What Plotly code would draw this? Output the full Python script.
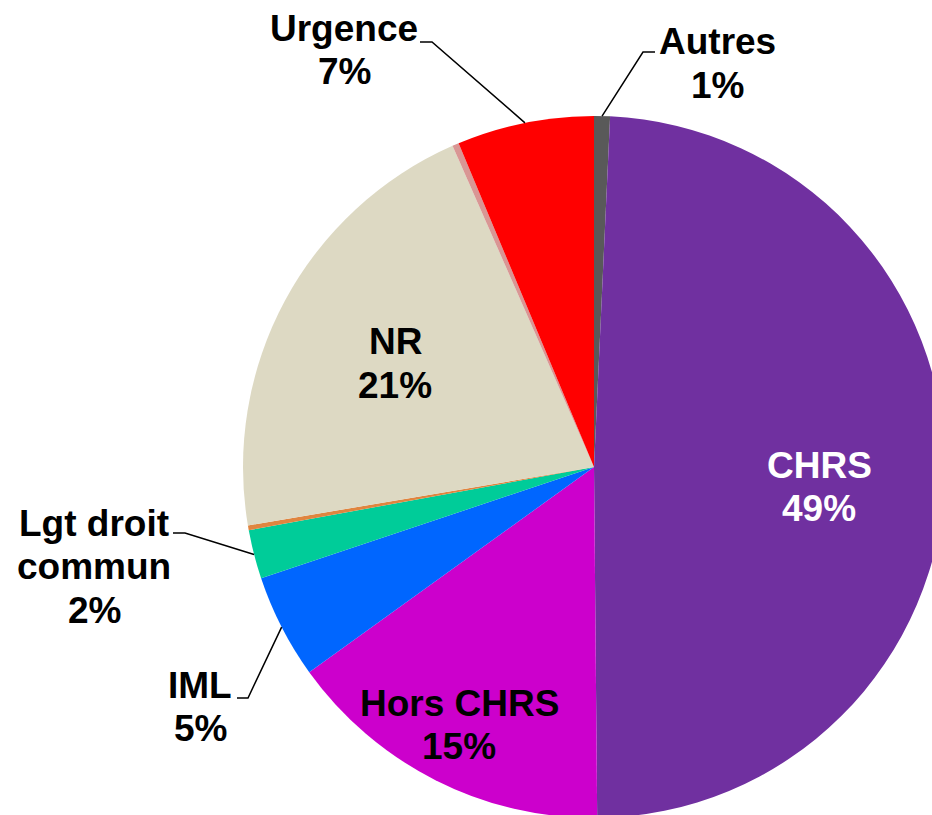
import math
import plotly.graph_objects as go

# ---- data ----
categories = ["Autres", "CHRS", "Hors CHRS", "IML", "Lgt droit commun",
              "Divers 1", "NR", "Divers 2", "Urgence"]
values = [0.73, 49.1, 15.2, 4.8, 2.25, 0.22, 21.05, 0.3, 6.3]
pct_labels = ["1%", "49%", "15%", "5%", "2%", "", "21%", "", "7%"]
label_lines = [["Autres"], ["CHRS"], ["Hors CHRS"], ["IML"], ["Lgt droit", "commun"],
               [], ["NR"], [], ["Urgence"]]
colors = ["#595959", "#7030A0", "#CC00CC", "#0066FF", "#00CC99",
          "#E0853F", "#DDD9C3", "#D99694", "#FF0000"]

# ---- layout geometry (pixels) ----
W, H = 960, 840
CX, CY, R = 594, 467, 351
FS = 37
LINE_GAP = 43.3
BASE_OFF = 11.5  # baseline offset below a middle-anchored line centre

def px(x):
    return x / W

def py(y):
    return 1 - y / H

# label placement: (centre x, first baseline y, text colour, leader elbow, leader end)
label_pos = {
    "Autres": (717, 53.3, "black", (643, 52), (655, 52)),
    "CHRS": (819, 476.7, "white", None, None),
    "Hors CHRS": (459, 715, "black", None, None),
    "IML": (200, 696.7, "black", (248, 698), (237, 698)),
    "Lgt droit commun": (94, 535, "black", (185, 533), (173, 533)),
    "NR": (395, 353.3, "black", None, None),
    "Urgence": (344, 40, "black", (432, 42), (420, 42)),
}

fig = go.Figure(go.Pie(
    labels=categories,
    values=values,
    sort=False,
    direction="clockwise",
    rotation=0,
    marker=dict(colors=colors, line=dict(width=0)),
    textinfo="none",
    hoverinfo="label+percent",
    showlegend=False,
    domain=dict(x=[px(CX - R), px(CX + R)], y=[py(CY + R), py(CY - R)]),
))

total = sum(values)
cum = 0.0
annotations = []
shapes = []
FONT = dict(family="Liberation Sans, Arial, sans-serif", size=FS, weight="bold")
for cat, v, pct, lines in zip(categories, values, pct_labels, label_lines):
    start = cum
    cum += v
    if cat not in label_pos:
        continue
    mid = (start + v / 2) / total * 2 * math.pi
    lx, base, col, elbow, end = label_pos[cat]
    for i, t in enumerate(lines + [pct]):
        annotations.append(dict(
            x=px(lx), y=py(base + i * LINE_GAP - BASE_OFF),
            xref="paper", yref="paper",
            text=t, showarrow=False,
            xanchor="center", yanchor="middle", align="center",
            font=dict(color=col, **FONT),
        ))
    if elbow is not None:
        ex = CX + R * math.sin(mid)
        ey = CY - R * math.cos(mid)
        path = (f"M {px(ex)} {py(ey)} L {px(elbow[0])} {py(elbow[1])} "
                f"L {px(end[0])} {py(end[1])}")
        shapes.append(dict(type="path", xref="paper", yref="paper", path=path,
                           line=dict(color="black", width=1.5)))

fig.update_layout(
    width=W, height=H,
    margin=dict(l=0, r=0, t=0, b=0),
    paper_bgcolor="white",
    plot_bgcolor="white",
    annotations=annotations,
    shapes=shapes,
)

fig.write_html(
    "out.html",
    config={"displayModeBar": False},
    post_script="document.body.style.margin='0';document.body.style.overflow='hidden';"
                "document.documentElement.style.overflow='hidden';",
)
